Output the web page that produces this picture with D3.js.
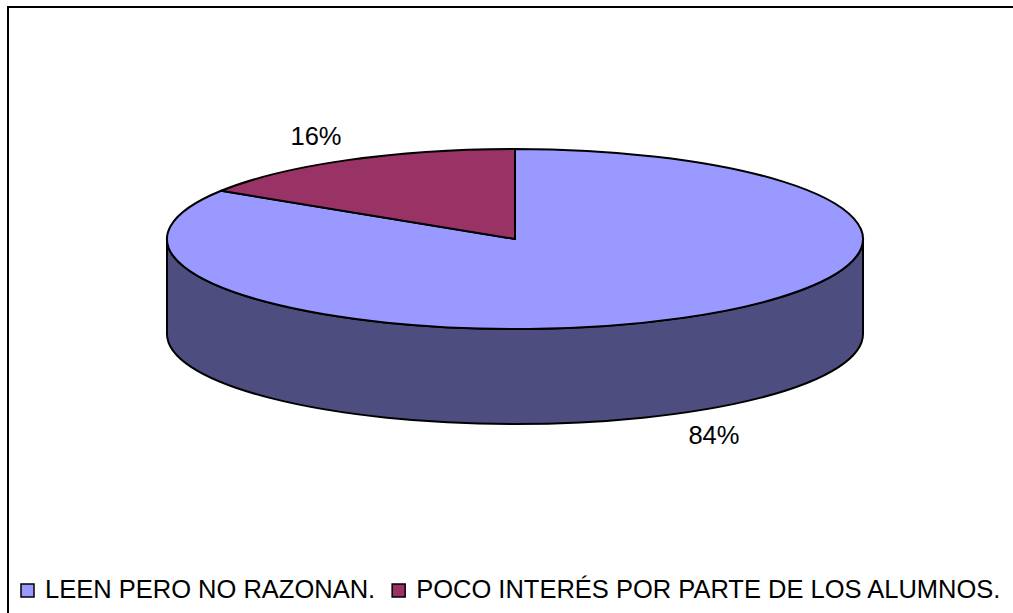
<!DOCTYPE html>
<html>
<head>
<meta charset="UTF-8">
<script src="https://d3js.org/d3.v7.min.js"></script>
<style>
  html, body { margin: 0; padding: 0; background: #fff; overflow: hidden; }
  svg { display: block; }
  text { font-family: "Liberation Sans", Arial, sans-serif; fill: #000; }
</style>
</head>
<body>
<script>
// data
const categories = ["LEEN PERO NO RAZONAN.", "POCO INTERÉS POR PARTE DE LOS ALUMNOS."];
const values = [84, 16];
const labels = ["84%", "16%"];
const topColors = ["#9999ff", "#993366"];
const sideColors = ["#4d4d80", "#4d1a33"];

const W = 1013, H = 613;
const cx = 515, cy = 239, rx = 348, ry = 90, depth = 95;

const svg = d3.select("body").append("svg")
  .attr("width", W).attr("height", H);

// chart frame: only the top and left edges are inside the picture
svg.append("path")
  .attr("d", `M8,${H + 10} L8,7 L${W + 10},7`)
  .attr("fill", "none").attr("stroke", "#000").attr("stroke-width", 2);

// pie layout: first slice clockwise from 12 o'clock, the rest wraps back
const pie = d3.pie().sort(null).value(d => d)
  .startAngle(0).endAngle(2 * Math.PI);
const arcs = pie(values);

// point on ellipse for a d3 angle (0 = top, clockwise)
function pt(a) {
  return [cx + rx * Math.sin(a), cy - ry * Math.cos(a)];
}

// side walls: only the front half (angles between PI/2 and 3PI/2) is seen
const g = svg.append("g");
arcs.forEach((d, i) => {
  const a0 = Math.max(d.startAngle, Math.PI / 2);
  const a1 = Math.min(d.endAngle, 3 * Math.PI / 2);
  if (a1 <= a0) return;
  const s = pt(a0), e = pt(a1);
  const large = (a1 - a0) > Math.PI ? 1 : 0;
  const pth = `M${s[0]},${s[1]} A${rx},${ry} 0 ${large} 1 ${e[0]},${e[1]}` +
    ` L${e[0]},${e[1] + depth}` +
    ` A${rx},${ry} 0 ${large} 0 ${s[0]},${s[1] + depth} Z`;
  g.append("path")
    .attr("d", pth)
    .attr("fill", sideColors[i])
    .attr("stroke", "#000").attr("stroke-width", 2)
    .attr("stroke-linejoin", "round");
});

// top faces: circular d3.arc squashed into an ellipse
const arc = d3.arc().innerRadius(0).outerRadius(rx);
g.selectAll("path.top").data(arcs).join("path")
  .attr("class", "top")
  .attr("transform", `translate(${cx},${cy}) scale(1,${ry / rx})`)
  .attr("d", arc)
  .attr("fill", (d, i) => topColors[i])
  .attr("stroke", "#000").attr("stroke-width", 2)
  .attr("stroke-linejoin", "round")
  .attr("vector-effect", "non-scaling-stroke");

// percentage labels outside the pie
const lrx = 413, lry = 116;
svg.selectAll("text.lbl").data(arcs).join("text")
  .attr("class", "lbl")
  .attr("x", d => cx + lrx * Math.sin((d.startAngle + d.endAngle) / 2))
  .attr("y", d => {
    const m = (d.startAngle + d.endAngle) / 2;
    const c = Math.cos(m);
    return cy - lry * c + (c < 0 ? depth : 0) + 8;
  })
  .attr("text-anchor", "middle")
  .attr("font-size", 25.5)
  .text((d, i) => labels[i]);

// legend along the bottom
const leg = svg.append("g");
let lx = 21;
categories.forEach((c, i) => {
  leg.append("rect")
    .attr("x", lx).attr("y", 584).attr("width", 13).attr("height", 13)
    .attr("fill", topColors[i]).attr("stroke", "#000").attr("stroke-width", 1.5);
  const t = leg.append("text")
    .attr("x", lx + 24).attr("y", 598)
    .attr("font-size", 25.5)
    .text(c);
  lx += 24 + t.node().getComputedTextLength() + 17;
});
</script>
</body>
</html>
